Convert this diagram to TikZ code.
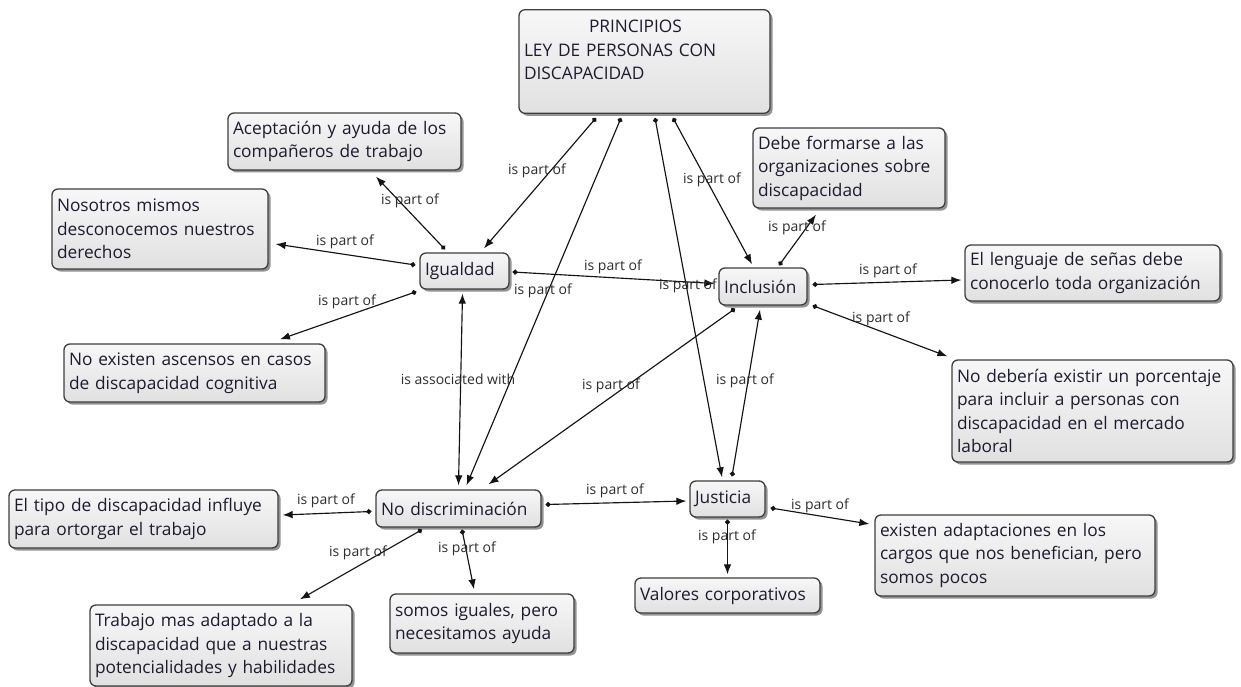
\documentclass[tikz,border=0pt]{standalone}
\usepackage{fontspec}
\setmainfont{Open Sans}
\usetikzlibrary{arrows.meta,shadows,calc}
\definecolor{boxborder}{RGB}{62,62,62}
\definecolor{txt}{RGB}{28,28,48}
\definecolor{labc}{RGB}{45,45,45}
\definecolor{linec}{RGB}{20,20,20}
\begin{document}
\begin{tikzpicture}[x=1pt,y=-1pt,
  cbox/.style={draw=boxborder, line width=1.3pt, rounded corners=6pt,
    top color=white!97!black, bottom color=black!12,
    drop shadow={shadow xshift=2.5pt, shadow yshift=-2.5pt, fill=black!60, opacity=0.7},
    inner xsep=5pt, inner ysep=3pt, font=\fontsize{17.3}{23.5}\selectfont, text=txt, align=left},
  lab/.style={font=\fontsize{14}{15}\selectfont, text=labc, inner sep=0pt},
  conn/.style={line width=1.15pt, draw=linec, {Circle[length=5pt]}-{Latex[length=10pt,width=7.5pt]}},
  assoc/.style={line width=1.15pt, draw=linec, {Latex[length=10pt,width=7.5pt]}-{Latex[length=10pt,width=7.5pt]}}]
\useasboundingbox (0,0) rectangle (1241,687);
\fill[white] (0,0) rectangle (1241,687);

% concepts
\node[cbox, minimum width=251pt, minimum height=103pt, text width=241pt] (P) at (644.5,61.5)
  {\rule{0pt}{20pt}\hspace*{65pt}PRINCIPIOS\\LEY DE PERSONAS CON\\DISCAPACIDAD\\\strut};
\node[cbox, minimum width=233pt, minimum height=57pt, text width=223pt] (Ac) at (344.5,141.5)
  {Aceptación y ayuda de los\\compañeros de trabajo};
\node[cbox, minimum width=216pt, minimum height=80pt, text width=206pt] (No) at (160,229)
  {Nosotros mismos\\desconocemos nuestros\\derechos};
\node[cbox, minimum width=89pt, minimum height=36pt, text width=79pt] (Ig) at (464.5,271)
  {Igualdad};
\node[cbox, minimum width=192pt, minimum height=80pt, text width=182pt] (De) at (849,168)
  {Debe formarse a las\\organizaciones sobre\\discapacidad};
\node[cbox, minimum width=88pt, minimum height=37pt, text width=78pt] (In) at (763,286.5)
  {Inclusión};
\node[cbox, minimum width=255pt, minimum height=56pt, text width=245pt] (Le) at (1092.5,273)
  {El lenguaje de señas debe\\conocerlo toda organización};
\node[cbox, minimum width=281pt, minimum height=102pt, text width=271pt] (Nd) at (1092.5,411)
  {No debería existir un porcentaje\\para incluir a personas con\\discapacidad en el mercado\\laboral};
\node[cbox, minimum width=261pt, minimum height=58pt, text width=251pt] (Ne) at (194.5,373)
  {No existen ascensos en casos\\de discapacidad cognitiva};
\node[cbox, minimum width=165pt, minimum height=37pt, text width=155pt] (ND) at (458.5,508.5)
  {No discriminación};
\node[cbox, minimum width=75pt, minimum height=36pt, text width=65pt] (Ju) at (727.5,499)
  {Justicia};
\node[cbox, minimum width=269pt, minimum height=58pt, text width=259pt] (Ti) at (143.5,519)
  {El tipo de discapacidad influye\\para ortorgar el trabajo};
\node[cbox, minimum width=262pt, minimum height=81pt, text width=252pt] (Tr) at (221,645.5)
  {Trabajo mas adaptado a la\\discapacidad que a nuestras\\potencialidades y habilidades};
\node[cbox, minimum width=184pt, minimum height=59pt, text width=174pt] (So) at (482,623.5)
  {somos iguales, pero\\necesitamos ayuda};
\node[cbox, minimum width=280pt, minimum height=81pt, text width=270pt] (Ex) at (1015,555.5)
  {existen adaptaciones en los\\cargos que nos benefician, pero\\somos pocos};
\node[cbox, minimum width=185pt, minimum height=35pt, text width=175pt] (Va) at (727.5,595.5)
  {Valores corporativos};

% connectors
\draw[conn] ($(P.south)+(-48.5,4)$) -- ($(Ig.north)+(19.5,-4)$);
\draw[conn] ($(P.south)+(-23.5,4)$) -- ($(ND.north)+(8,-4)$);
\draw[conn] ($(P.south)+(10.5,4)$) -- ($(Ju.north)+(-5.5,-3)$);
\draw[conn] ($(P.south)+(28.5,4)$) -- ($(In.north)+(-11,-3)$);
\draw[conn] ($(Ig.north)+(-19.5,-3)$) -- ($(Ac.south)+(31.5,6)$);
\draw[conn] ($(Ig.west)+(-4,-6)$) -- ($(No.east)+(7,15)$);
\draw[conn] ($(Ig.south west)+(-3,2)$) -- ($(Ne.north)+(85.5,-4)$);
\draw[conn] ($(Ig.east)+(3,1)$) -- ($(In.west)+(-4,-3)$);
\draw[assoc] ($(Ig.south)+(-2,4)$) -- ($(ND.north)+(0,-4)$);
\draw[conn] ($(In.north)+(16,-2)$) -- ($(De.south)+(-33,6)$);
\draw[conn] ($(In.east)+(5,-2)$) -- ($(Le.west)+(-3,7)$);
\draw[conn] ($(In.south east)+(5,0)$) -- ($(Nd.north west)+(-4,-3)$);
\draw[conn] ($(In.south)+(-28,3)$) -- ($(ND.north)+(30,-5)$);
\draw[conn] ($(Ju.north)+(4.5,-4)$) -- ($(In.south)+(-3,4)$);
\draw[conn] ($(ND.east)+(4,-4)$) -- ($(Ju.west)+(-3,2)$);
\draw[conn] ($(ND.west)+(-4,3)$) -- ($(Ti.east)+(4,-4)$);
\draw[conn] ($(ND.south)+(-36.5,2)$) -- ($(Tr.north)+(79,-5)$);
\draw[conn] ($(ND.south)+(3.5,2)$) -- ($(So.north)+(-8,-4)$);
\draw[conn] ($(Ju.east)+(5,9)$) -- ($(Ex.west)+(-5,-31.5)$);
\draw[conn] ($(Ju.south)+(0,2)$) -- ($(Va.north)+(0,-3)$);

% linking phrases
\node[lab] (l1) at (537,171) {is part of};
\node[lab] (l2) at (543,291) {is part of};
\node[lab] (l3) at (688,286) {is part of};
\node[lab] (l4) at (712,180) {is part of};
\node[lab] (l5) at (410,201) {is part of};
\node[lab] (l6) at (345,242) {is part of};
\node[lab] (l7) at (347,302) {is part of};
\node[lab] (l8) at (613,267) {is part of};
\node[lab] (l9) at (458,379) {is associated with};
\node[lab] (l10) at (797,228) {is part of};
\node[lab] (l11) at (888,271) {is part of};
\node[lab] (l12) at (881,319) {is part of};
\node[lab] (l13) at (611,386) {is part of};
\node[lab] (l14) at (745,381) {is part of};
\node[lab] (l15) at (615,491) {is part of};
\node[lab] (l16) at (326,501) {is part of};
\node[lab] (l17) at (358,553) {is part of};
\node[lab] (l18) at (467,549) {is part of};
\node[lab] (l19) at (820,506) {is part of};
\node[lab] (l20) at (727,537) {is part of};
\end{tikzpicture}
\end{document}
